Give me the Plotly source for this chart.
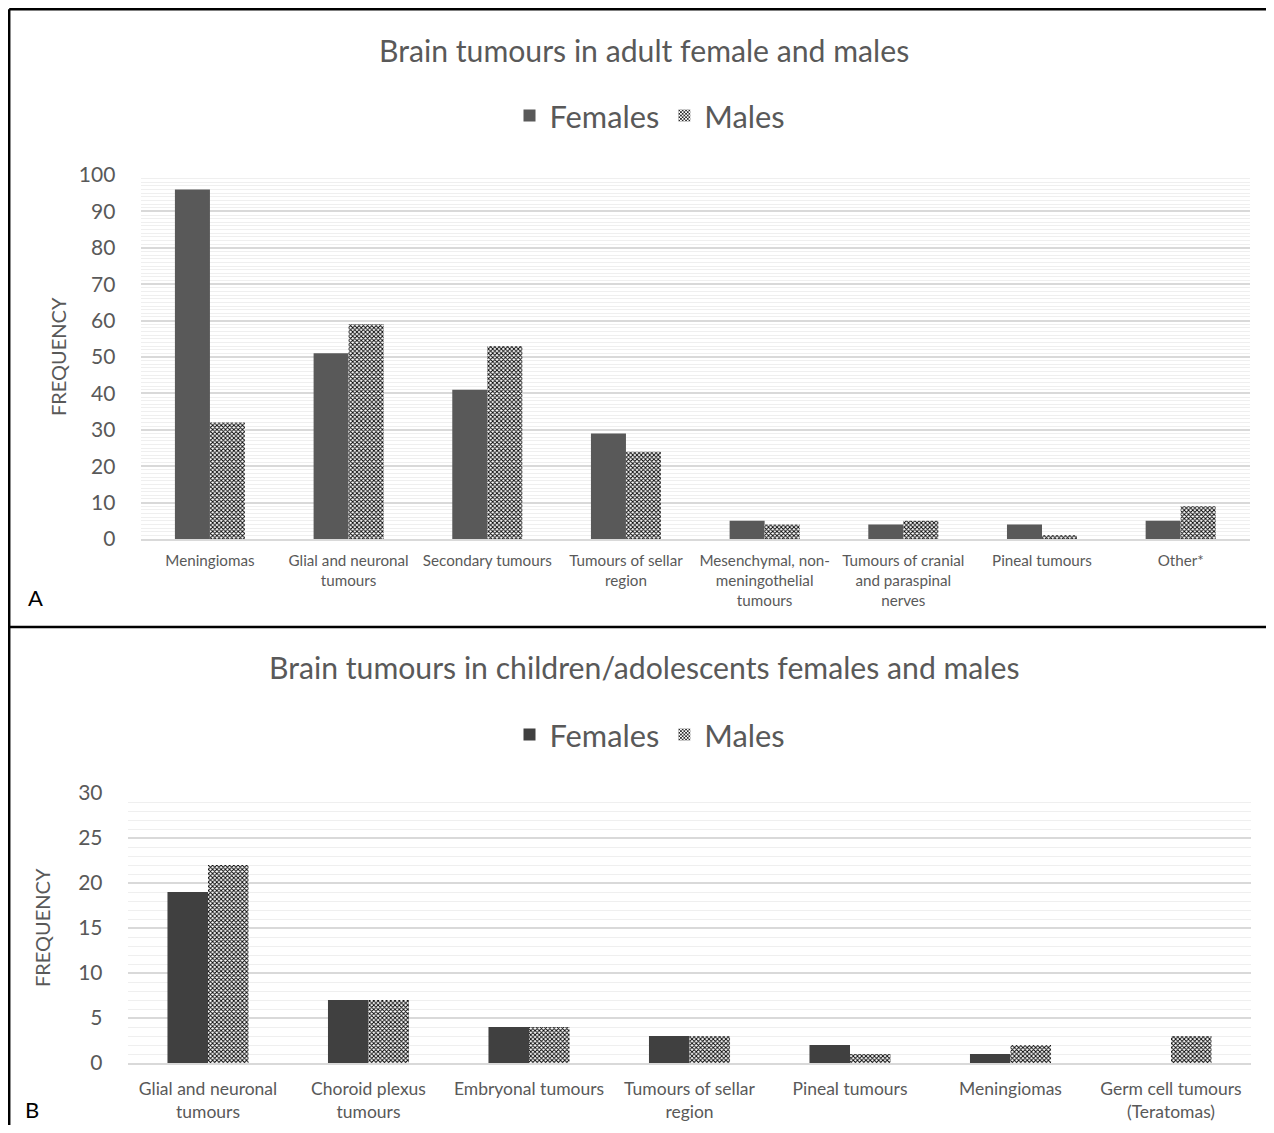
import plotly.graph_objects as go

# Figure size chosen so that, with the page's 8px body margin, the page is exactly 1274x1133
W, H = 1258, 1117
OFF = 8  # body margin of the html page

# ---- Data ----
cats_a = ["Meningiomas", "Glial and neuronal<br>tumours", "Secondary tumours",
          "Tumours of sellar<br>region", "Mesenchymal, non-<br>meningothelial<br>tumours",
          "Tumours of cranial<br>and paraspinal<br>nerves", "Pineal tumours", "Other*"]
females_a = [96, 51, 41, 29, 5, 4, 4, 5]
males_a = [32, 59, 53, 24, 4, 5, 1, 9]

cats_b = ["Glial and neuronal<br>tumours", "Choroid plexus<br>tumours", "Embryonal tumours",
          "Tumours of sellar<br>region", "Pineal tumours", "Meningiomas",
          "Germ cell tumours<br>(Teratomas)"]
females_b = [19, 7, 4, 3, 2, 1, 0]
males_b = [22, 7, 4, 3, 1, 2, 3]

yticks_a = [0, 10, 20, 30, 40, 50, 60, 70, 80, 90, 100]
yticks_b = [0, 5, 10, 15, 20, 25, 30]

FONT = "Lato"
GREY = "#595959"


def px_x(p):
    return (p - OFF) / W


def px_y(p):
    return 1 - (p - OFF) / H


male_pattern = dict(shape="x", fgcolor="black", bgcolor="white", size=3, solidity=0.5)

fig = go.Figure()
fig.add_trace(go.Bar(x=cats_a, y=females_a, name="Females", marker=dict(color="#595959", line=dict(width=0)),
                     xaxis="x", yaxis="y", legend="legend"))
fig.add_trace(go.Bar(x=cats_a, y=males_a, name="Males",
                     marker=dict(color="white", pattern=male_pattern, line=dict(width=0)),
                     xaxis="x", yaxis="y", legend="legend"))
fig.add_trace(go.Bar(x=cats_b, y=females_b, name="Females", marker=dict(color="#404040", line=dict(width=0)),
                     xaxis="x2", yaxis="y2", legend="legend2"))
fig.add_trace(go.Bar(x=cats_b, y=males_b, name="Males",
                     marker=dict(color="white", pattern=male_pattern, line=dict(width=0)),
                     xaxis="x2", yaxis="y2", legend="legend2"))

common_x = dict(showgrid=False, showline=True, linecolor="#d9d9d9", linewidth=1.5, automargin=False,
                ticks="outside", tickcolor="rgba(0,0,0,0)", fixedrange=True)
common_y = dict(showgrid=True, gridcolor="#d9d9d9", gridwidth=1.5, zeroline=False, automargin=False,
                ticks="outside", tickcolor="rgba(0,0,0,0)", ticklen=20, showline=False,
                minor=dict(dtick=1, showgrid=True, gridcolor="#efefef", gridwidth=1),
                tickfont=dict(family=FONT, size=21, color=GREY))

fig.update_layout(
    template="none",
    width=W, height=H, autosize=False,
    margin=dict(l=0, r=0, t=0, b=0, pad=0),
    paper_bgcolor="white", plot_bgcolor="white",
    barmode="group", bargap=0.495, bargroupgap=0,
    font=dict(family=FONT, color=GREY),
    xaxis=dict(domain=[px_x(140.6), px_x(1250)], anchor="y", ticklen=7,
               tickfont=dict(family=FONT, size=15.2, color=GREY), **common_x),
    yaxis=dict(domain=[px_y(539), px_y(175)], anchor="x", range=[0, 100],
               tickvals=yticks_a, **common_y),
    xaxis2=dict(domain=[px_x(127.75), px_x(1251.25)], anchor="y2", ticklen=9,
                tickfont=dict(family=FONT, size=17.5, color=GREY), **common_x),
    yaxis2=dict(domain=[px_y(1063), px_y(793)], anchor="x2", range=[0, 30],
                tickvals=yticks_b, **common_y),
    legend=dict(orientation="h", x=px_x(650), xanchor="center", y=px_y(116), yanchor="middle",
                font=dict(family=FONT, size=30.8, color=GREY), itemwidth=30, bgcolor="rgba(0,0,0,0)"),
    legend2=dict(orientation="h", x=px_x(650), xanchor="center", y=px_y(735), yanchor="middle",
                 font=dict(family=FONT, size=30.8, color=GREY), itemwidth=30, bgcolor="rgba(0,0,0,0)"),
)

annotations = [
    dict(text="Brain tumours in adult female and males", x=px_x(644), y=px_y(50),
         font=dict(family=FONT, size=30.2, color=GREY)),
    dict(text="Brain tumours in children/adolescents females and males", x=px_x(644), y=px_y(667),
         font=dict(family=FONT, size=30.2, color=GREY)),
    dict(text="FREQUENCY", x=px_x(58), y=px_y(357), textangle=-90,
         font=dict(family=FONT, size=20, color=GREY)),
    dict(text="FREQUENCY", x=px_x(42), y=px_y(928), textangle=-90,
         font=dict(family=FONT, size=20, color=GREY)),
    dict(text="A", x=px_x(36), y=px_y(597), font=dict(family=FONT, size=22, color="black")),
]
for a in annotations:
    a.update(xref="paper", yref="paper", showarrow=False, xanchor="center", yanchor="middle")
annotations.append(dict(text="B", x=px_x(32), y=0, xref="paper", yref="paper", showarrow=False,
                        xanchor="center", yanchor="bottom", font=dict(family=FONT, size=22, color="black")))
fig.update_layout(annotations=annotations)

line = dict(color="black", width=2.5)
fig.update_layout(shapes=[
    dict(type="line", xref="paper", yref="paper", x0=px_x(9.2), x1=1, y0=px_y(9.2), y1=px_y(9.2), line=line),
    dict(type="line", xref="paper", yref="paper", x0=px_x(9.2), x1=px_x(9.2), y0=px_y(9.2), y1=0, line=line),
    dict(type="line", xref="paper", yref="paper", x0=px_x(9.2), x1=1, y0=px_y(627), y1=px_y(627), line=line),
])

fig.write_html("out.html")
